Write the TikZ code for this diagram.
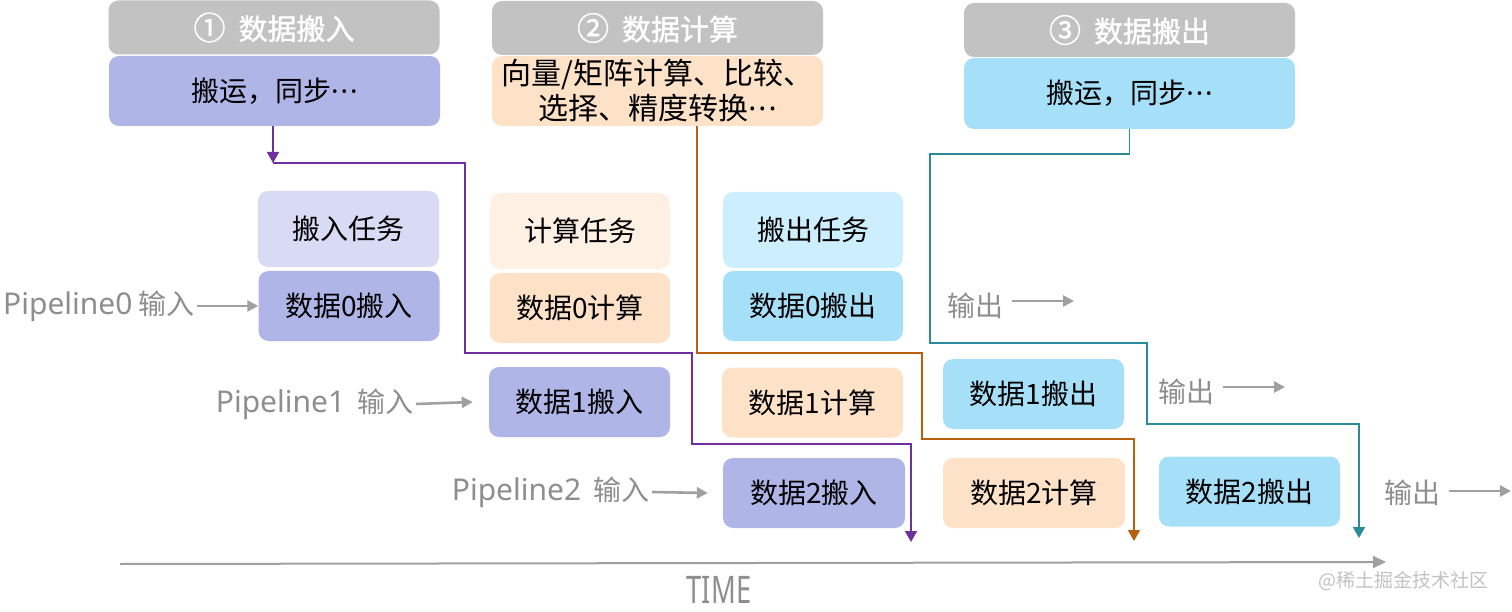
\documentclass[tikz,border=0pt]{standalone}
\usepackage{fontspec}
\setmainfont{Noto Sans CJK SC}
\newfontfamily\latinsans{Noto Sans}
\newfontfamily\hdrfont{Noto Sans CJK SC}[FakeBold=1.2]
\usetikzlibrary{arrows.meta}
\definecolor{hdrgray}{HTML}{C2C2C2}
\definecolor{pboxc}{HTML}{B0B5E8}
\definecolor{pboxl}{HTML}{D9DBF5}
\definecolor{oboxc}{HTML}{FDE2C8}
\definecolor{oboxl}{HTML}{FEF0E3}
\definecolor{bboxc}{HTML}{A6DFF8}
\definecolor{bboxl}{HTML}{CDEEFC}
\definecolor{plinec}{HTML}{7030A0}
\definecolor{olinec}{HTML}{B8600F}
\definecolor{tlinec}{HTML}{2A8C9A}
\definecolor{txtgray}{HTML}{8E8E8E}
\definecolor{arrgray}{HTML}{A0A0A0}
\newcommand{\mydots}{\hbox{\latinsans\bfseries ·\kern2pt·\kern2pt·}}
\newcommand{\circnum}[1]{{\fontsize{32}{32}\selectfont #1}}
\tikzset{
  basebox/.style={rounded corners=10pt, inner sep=0pt, text=black, font=\fontsize{28}{34}\selectfont, align=center},
  hdr/.style={basebox, fill=hdrgray, text=white, minimum width=331pt, minimum height=54pt, font=\hdrfont\fontsize{29}{34}\selectfont},
  sub/.style={basebox, minimum width=331pt, minimum height=70pt},
  task/.style={basebox, minimum width=181pt, minimum height=70pt},
  conn/.style={line width=1.6pt, -{Triangle[width=12pt,length=11pt]}},
  graylbl/.style={text=txtgray, font=\fontsize{28}{34}\selectfont, inner sep=0pt},
  grayarr/.style={draw=arrgray, line width=2.6pt, -{Triangle[width=11pt,length=11pt]}}
}
\begin{document}
\begin{tikzpicture}[x=1pt,y=-1pt]
\useasboundingbox (0,0) rectangle (1512,612);
% headers
\node[hdr] (H1) at (274,27.5) {\circnum{①}\ \ 数据搬入};
\node[sub, fill=pboxc] (S1) at (274.5,91) {搬运，同步\mydots};
\node[hdr] (H2) at (657.5,28) {\circnum{②}\ \ 数据计算};
\node[sub, fill=oboxc, font=\fontsize{30}{35}\selectfont] (S2) at (657.5,91) {向量/矩阵计算、比较、\\选择、精度转换\mydots};
\node[hdr] (H3) at (1129.5,30) {\circnum{③}\ \ 数据搬出};
\node[sub, fill=bboxc, minimum height=71pt] (S3) at (1129.5,93.5) {搬运，同步\mydots};
% task row
\node[task, fill=pboxl, minimum height=76pt] (T1) at (348.5,229) {搬入任务};
\node[task, fill=oboxl, minimum height=76pt, minimum width=180pt] (T2) at (580,231) {计算任务};
\node[task, fill=bboxl, minimum height=76pt, minimum width=180pt] (T3) at (813,230) {搬出任务};
% row 0
\node[task, fill=pboxc] (D0in) at (349,306) {数据0搬入};
\node[task, fill=oboxc, minimum width=180pt] (D0c) at (580,308) {数据0计算};
\node[task, fill=bboxc, minimum width=180pt] (D0out) at (813,306) {数据0搬出};
% row 1
\node[task, fill=pboxc] (D1in) at (579.5,402) {数据1搬入};
\node[task, fill=oboxc] (D1c) at (812.5,402.5) {数据1计算};
\node[task, fill=bboxc] (D1out) at (1033.5,394) {数据1搬出};
% row 2
\node[task, fill=pboxc, minimum width=182pt] (D2in) at (814,493) {数据2搬入};
\node[task, fill=oboxc, minimum width=182pt] (D2c) at (1034,493) {数据2计算};
\node[task, fill=bboxc] (D2out) at (1249.5,491.5) {数据2搬出};
% input labels
\node[graylbl, anchor=east] (L0) at (195,306) {{\latinsans\fontsize{30}{34}\selectfont Pipeline0} 输入};
\node[graylbl, anchor=east] (L1) at (414,404) {{\latinsans\fontsize{30}{34}\selectfont Pipeline1}\ \ 输入};
\node[graylbl, anchor=east] (L2) at (650,492) {{\latinsans\fontsize{30}{34}\selectfont Pipeline2}\ \ 输入};
\draw[grayarr] (L0.east) ++(2,0) coordinate (a0s) -- (D0in.west);
\draw[grayarr] (L1.east) ++(2,0) coordinate (a1s) -- ([xshift=-16pt]D1in.west);
\draw[grayarr] (L2.east) ++(2,0) coordinate (a2s) -- ([xshift=-15pt]D2in.west);
% output labels
\node[graylbl, anchor=west] (O0) at (947,306) {输出};
\node[graylbl, anchor=west] (O1) at (1158,392) {输出};
\node[graylbl, anchor=west] (O2) at (1384,493) {输出};
\coordinate (O0e) at (1074,301);
\coordinate (O1e) at (1285,387);
\coordinate (O2e) at (1511,491);
\draw[grayarr] ([xshift=9pt]O0.east |- O0e) -- (O0e);
\draw[grayarr] ([xshift=9pt]O1.east |- O1e) -- (O1e);
\draw[grayarr] ([xshift=9pt]O2.east |- O2e) -- (O2e);
% connectors
\coordinate (pA) at (273,163);
\coordinate (pEnd) at (911,542);
\draw[conn, draw=plinec, fill=plinec] (S1.south -| pA) -- (pA);
\draw[line width=1.6pt, draw=plinec] (pA) -| (465,353) -| (692,444) -| (911,530);
\draw[conn, draw=plinec, fill=plinec] (911,520) -- (pEnd);
\coordinate (oA) at (697,126);
\coordinate (oEnd) at (1134,541);
\draw[line width=1.6pt, draw=olinec] (S2.south -| oA) -- (697,353) -| (922,439) -| (1134,530);
\draw[conn, draw=olinec, fill=olinec] (1134,520) -- (oEnd);
\coordinate (tA) at (1129.5,154);
\coordinate (tEnd) at (1359,538);
\draw[line width=1.6pt, draw=tlinec] (S3.south) -- (tA) -| (930,343) -| (1147,424) -| (1359,528);
\draw[conn, draw=tlinec, fill=tlinec] (1359,518) -- (tEnd);
% time axis
\coordinate (ax0) at (120,564);
\coordinate (ax1) at (1386,562);
\draw[draw=arrgray, line width=2pt, -{Triangle[width=12pt,length=13pt]}] (ax0) -- (ax1);
\node[text=txtgray, font=\latinsans\fontsize{38}{40}\selectfont, xscale=0.72, inner sep=0pt, anchor=base] (timelbl) at (719,603) {TIME};
\node[text=hdrgray, font=\fontsize{19}{22}\selectfont, inner sep=0pt] (wm) at (1403,581) {@稀土掘金技术社区};
\end{tikzpicture}
\end{document}
